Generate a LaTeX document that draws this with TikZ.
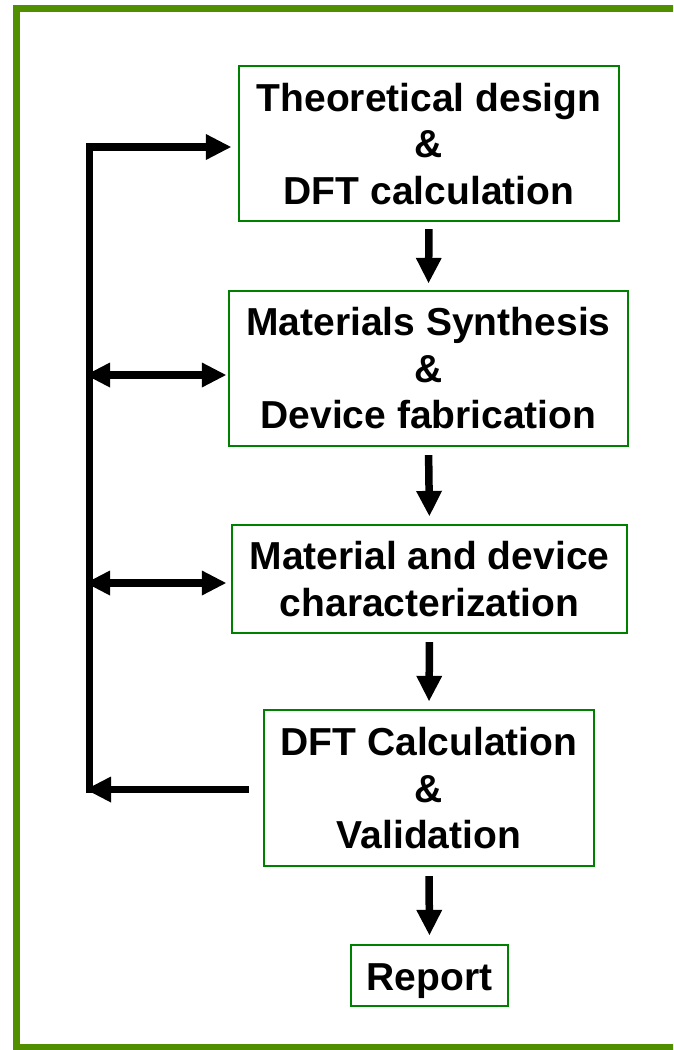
\documentclass[tikz,border=0pt]{standalone}
\usepackage{fontspec}
\setmainfont{Liberation Sans}
\usetikzlibrary{arrows.meta}

\definecolor{framegreen}{RGB}{80,144,0}
\definecolor{boxgreen}{RGB}{0,128,0}

\newcommand{\stepfont}{\fontsize{39}{46.5}\selectfont\bfseries}

\tikzset{
  frameline/.style={draw=framegreen, line width=7pt},
  stepbox/.style={draw=boxgreen, line width=2.2pt, inner sep=0pt,
    align=center, font=\stepfont},
  flow/.style={line width=7.5pt,
    -{Triangle[length=25pt,width=26pt,line width=0pt]}},
  biflow/.style={line width=7.5pt,
    {Triangle[length=24pt,width=25pt,line width=0pt]}-{Triangle[length=24pt,width=25pt,line width=0pt]}},
}

\begin{document}
\begin{tikzpicture}[x=1pt, y=-1pt]
  \useasboundingbox (0,0) rectangle (673,1050);
  \clip (0,0) rectangle (673,1050);

  % outer frame (runs past the right edge)
  \draw[frameline] (16.5,8.5) rectangle (720,1047.5);

  % process steps
  \node[stepbox, minimum width=380pt, minimum height=155pt, text depth=-1pt]
    (box1) at (429,143.5) {Theoretical design\\\&\\DFT calculation};
  \node[stepbox, minimum width=399pt, minimum height=155pt]
    (box2) at (428.5,368.5) {Materials Synthesis\\\&\\Device fabrication};
  \node[stepbox, minimum width=395pt, minimum height=108pt]
    (box3) at (429.5,579) {Material and device\\characterization};
  \node[stepbox, minimum width=330pt, minimum height=156pt, text depth=0pt]
    (box4) at (429,788) {DFT Calculation\\\&\\Validation};
  \node[stepbox, minimum width=157pt, minimum height=61pt, text height=34pt, text depth=5pt]
    (box5) at (429.5,975.5) {Report};

  % main flow
  \draw[flow, shorten <=7pt, shorten >=7pt] (box1.south) -- (box2.north);
  \draw[flow, shorten <=8pt, shorten >=8pt] (box2.south) -- (box3.north);
  \draw[flow, shorten <=8pt, shorten >=8pt] (box3.south) -- (box4.north);
  \draw[flow, shorten <=9pt, shorten >=9pt] (box4.south) -- (box5.north);

  % feedback loop on the left
  \coordinate (bustop) at (89.5,147);
  \coordinate (busbot) at (89.5,793);
  \coordinate (link2) at (89.5,375);
  \coordinate (link3) at (89.5,583);
  \coordinate (link4) at (89.5,789.5);

  \draw[flow, shorten >=7pt] (busbot) -- (bustop) -- (bustop -| box1.west);
  \draw[biflow, shorten <=-3.5pt, shorten >=2pt] (link2) -- (link2 -| box2.west);
  \draw[biflow, shorten <=-3.5pt, shorten >=5pt] (link3) -- (link3 -| box3.west);
  \draw[flow, shorten <=14pt, shorten >=-3.5pt] (box4.west |- link4) -- (link4);
\end{tikzpicture}
\end{document}
